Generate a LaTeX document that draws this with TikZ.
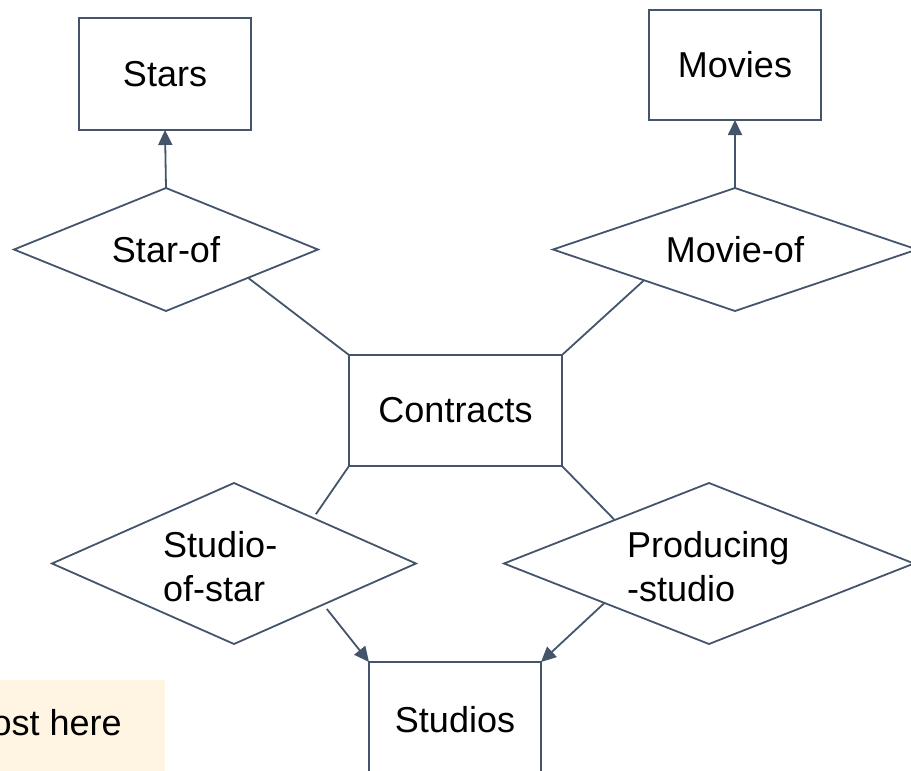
\documentclass[tikz,border=0pt]{standalone}
\usepackage{fontspec}
\setmainfont{Liberation Sans}
\usetikzlibrary{shapes.geometric,arrows.meta,calc}
\definecolor{edge}{RGB}{68,84,106}
\definecolor{note}{RGB}{255,245,226}

\begin{document}
\begin{tikzpicture}[x=1pt,y=-1pt,
  every node/.style={font=\fontsize{36}{44}\selectfont, text=black},
  entity/.style={draw=edge, line width=1.8pt, rectangle, inner sep=0pt, outer sep=0pt},
  rel/.style={draw=edge, line width=1.8pt, diamond, aspect=2.6, inner sep=0pt, outer sep=0pt},
  lbl/.style={inner sep=0pt, align=left, anchor=north west},
  link/.style={draw=edge, line width=1.8pt},
  arr/.style={link, -{Triangle[length=15pt,width=14pt]}}]

\clip (0,0) rectangle (911,771);

% note strip in the lower left corner
\node[fill=note, inner sep=0pt, minimum width=165pt, minimum height=100pt, anchor=north west] (notebg) at (0,680) {};
\node[inner sep=0pt, anchor=east] (notetext) at (122,723) {ost here};

% entity sets
\node[entity, minimum width=172pt, minimum height=112pt] (stars) at (165,74) {Stars};
\node[entity, minimum width=172pt, minimum height=110pt] (movies) at (735,65) {Movies};
\node[entity, minimum width=213pt, minimum height=111pt] (contracts) at (455.5,410.5) {Contracts};
\node[entity, minimum width=172pt, minimum height=200pt, anchor=north] (studios) at (455,662) {};
\node (studiostext) at (455,720) {Studios};

% relationships
\node[rel, aspect=2.47, minimum width=304pt, minimum height=123pt] (starof) at (166,249.5) {Star-of};
\node[rel, aspect=2.96, minimum width=364pt, minimum height=123pt] (movieof) at (735,249.5) {Movie-of};
\node[rel, aspect=2.26, minimum width=364pt, minimum height=161pt] (sos) at (234,563.5) {};
\node[lbl] (sostext) at (163,531) {Studio-\\of-star};
\node[rel, aspect=2.55, minimum width=410pt, minimum height=161pt] (ps) at (709,563.5) {};
\node[lbl] (pstext) at (627,531) {Producing\\-studio};

% connector end points on the diamond edges
\coordinate (starofC) at ($(starof.east)!0.46!(starof.south)$);
\coordinate (movieofC) at ($(movieof.west)!0.5!(movieof.south)$);
\coordinate (sosC) at ($(sos.north)!0.45!(sos.east)+(0,-5)$);
\coordinate (sosS) at ($(sos.east)!0.49!(sos.south)+(0,6)$);
\coordinate (psC) at ($(ps.north)!0.46!(ps.west)$);
\coordinate (psS) at ($(ps.west)!0.49!(ps.south)$);

% connectors
\draw[arr] (starof.north) -- (stars.south);
\draw[arr] (movieof.north) -- (movies.south);
\draw[link] (contracts.north west) -- (starofC);
\draw[link] (contracts.north east) -- (movieofC);
\draw[link] (contracts.south west) -- (sosC);
\draw[link] (contracts.south east) -- (psC);
\draw[arr] (sosS) -- (studios.north west);
\draw[arr] (psS) -- (studios.north east);
\end{tikzpicture}
\end{document}
